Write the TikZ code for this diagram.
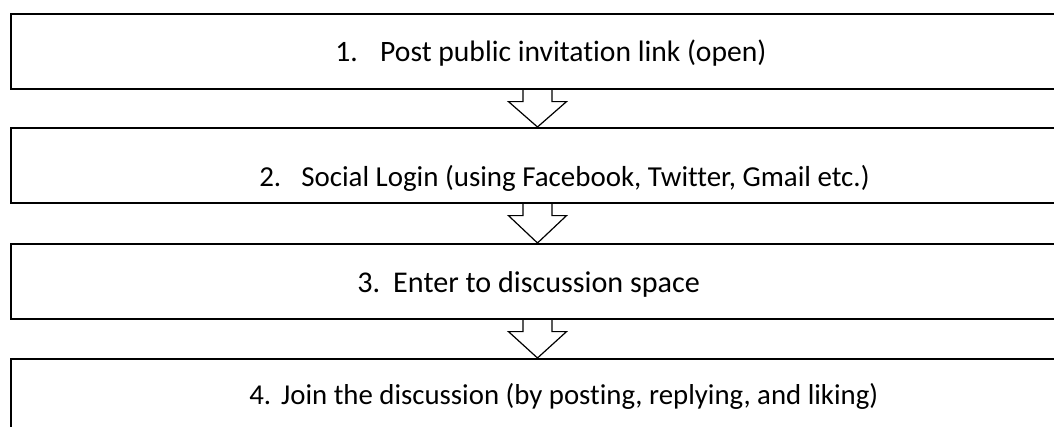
\documentclass[tikz,border=0pt]{standalone}
\usepackage{fontspec}
\setmainfont{Carlito}[Ligatures={NoCommon},RawFeature={-liga;-dlig;-clig}]
\usetikzlibrary{calc}
\begin{document}
\begin{tikzpicture}[x=0.75pt,y=-0.75pt,
  stepbox/.style={draw=black,line width=1.6pt,fill=white,rectangle,minimum width=787.5pt,minimum height=56.25pt,inner sep=0pt,anchor=north west},
  steptext/.style={anchor=base west,inner sep=0pt,text=black},
  harrow/.style={draw=black,line width=0.9pt,fill=white,line join=miter}]
\useasboundingbox (0,0) rectangle (1054,427);
\clip (0,0) rectangle (1054,427);
\fill[white] (0,0) rectangle (1054,427);
\coordinate (ax) at (537.5,0);
\node[stepbox] (b1) at (10,13) {};
\node[stepbox] (b2) at (10,127) {};
\node[stepbox] (b3) at (10,243) {};
\node[stepbox] (b4) at (10,358) {};
\node[steptext,font=\fontsize{22.2}{26}\selectfont] (t1) at (335,62) {\makebox[33.75pt][l]{1.}Post public invitation link (open)};
\node[steptext,font=\fontsize{21.7}{26}\selectfont] (t2) at (259,187) {\makebox[31.5pt][l]{2.}Social Login (using Facebook, Twitter, Gmail etc.)};
\node[steptext,font=\fontsize{22.6}{26}\selectfont] (t3) at (357,293) {\makebox[27pt][l]{3.}Enter to discussion space};
\node[steptext,font=\fontsize{21.6}{26}\selectfont] (t4) at (249,405) {\makebox[24pt][l]{4.}Join the discussion (by posting, replying, and liking)};
\foreach \a/\b in {b1/b2,b2/b3,b3/b4}{
  \draw[harrow] ($(\a.south -| ax)+(-14.5,0)$) -- ++(0,11.5) -- ++(-14.5,0)
     -- (\b.north -| ax) -- ($(\a.south -| ax)+(29,11.5)$) -- ++(-14.5,0) -- ++(0,-11.5);
}
\end{tikzpicture}
\end{document}
